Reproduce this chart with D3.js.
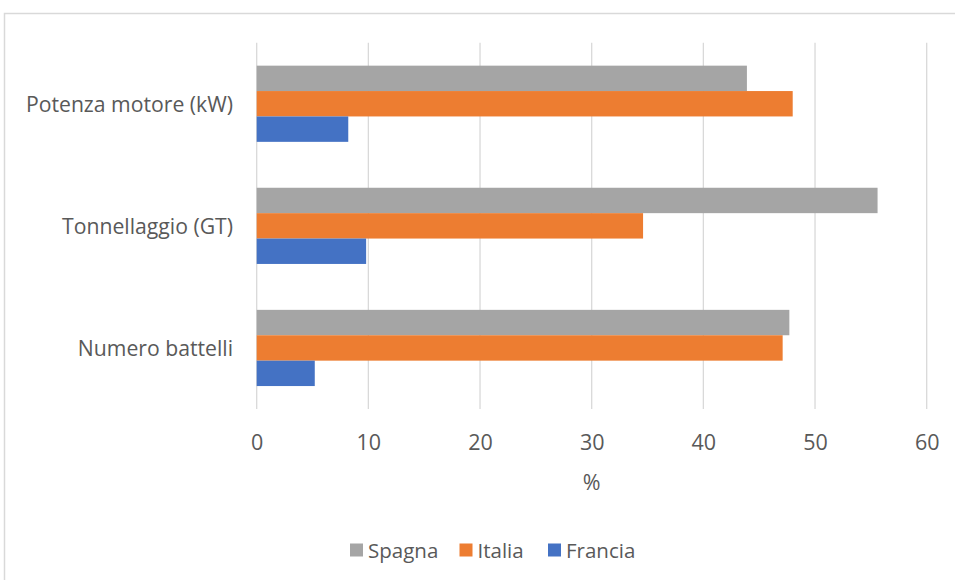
<!DOCTYPE html>
<html>
<head>
<meta charset="utf-8">
<script src="https://cdn.jsdelivr.net/npm/d3@7"></script>
<style>
  html, body { margin: 0; padding: 0; background: #ffffff; }
  svg { display: block; font-family: "Open Sans", "Noto Sans", sans-serif; }
</style>
</head>
<body>
<svg id="chart" width="955" height="580"></svg>
<script>
// Categories, top to bottom
const categories = ["Potenza motore (kW)", "Tonnellaggio (GT)", "Numero battelli"];
// Series names, in drawing order within each group (top to bottom)
const seriesNames = ["Spagna", "Italia", "Francia"];
const seriesColors = ["#A5A5A5", "#ED7D31", "#4472C4"];
// Share (%) per category, one array per series
const spagna  = [43.9, 55.6, 47.7];
const italia  = [48.0, 34.6, 47.1];
const francia = [8.2, 9.8, 5.2];
const xTicks = [0, 10, 20, 30, 40, 50, 60];
const xTitle = "%";

const seriesValues = [spagna, italia, francia];

const svg = d3.select("#chart");
const textColor = "#595959";
const gridColor = "#D9D9D9";

// Chart frame
svg.append("rect")
  .attr("x", 4.5).attr("y", 13.5)
  .attr("width", 1200).attr("height", 1200)
  .attr("fill", "#ffffff")
  .attr("stroke", gridColor).attr("stroke-width", 1.5);

const plot = { left: 256.7, right: 926.7, top: 42.7, bottom: 409 };

const x = d3.scaleLinear().domain([0, 60]).range([plot.left, plot.right]);
const y = d3.scaleBand().domain(categories)
  .range([plot.top, plot.bottom])
  .paddingInner(0.376).paddingOuter(0.188);
const ySeries = d3.scaleBand().domain(seriesNames).range([0, y.bandwidth()]);

// Vertical gridlines
svg.append("g").selectAll("line").data(xTicks).join("line")
  .attr("x1", d => x(d)).attr("x2", d => x(d))
  .attr("y1", plot.top).attr("y2", plot.bottom)
  .attr("stroke", gridColor).attr("stroke-width", 1.3);

// Bars
const groups = svg.append("g").selectAll("g").data(categories).join("g")
  .attr("transform", d => `translate(0,${y(d)})`);
groups.each(function(cat, ci) {
  d3.select(this).selectAll("rect")
    .data(seriesNames.map((s, si) => ({ s, si, v: seriesValues[si][ci] })))
    .join("rect")
    .attr("x", x(0))
    .attr("y", d => ySeries(d.s))
    .attr("width", d => x(d.v) - x(0))
    .attr("height", ySeries.bandwidth())
    .attr("fill", d => seriesColors[d.si]);
});

// Category labels
svg.append("g").selectAll("text").data(categories).join("text")
  .attr("x", 233)
  .attr("y", d => y(d) + y.bandwidth() / 2)
  .attr("text-anchor", "end")
  .attr("dominant-baseline", "central")
  .attr("font-size", 21.2)
  .attr("fill", textColor)
  .text(d => d);

// X axis tick labels
const xAxis = d3.axisBottom(x).tickValues(xTicks).tickSize(0).tickPadding(0);
const gx = svg.append("g").attr("transform", `translate(0,${plot.bottom})`).call(xAxis);
gx.select(".domain").remove();
gx.selectAll("text")
  .attr("y", 32)
  .attr("dy", 0)
  .attr("dominant-baseline", "central")
  .attr("font-family", "\"Open Sans\", sans-serif")
  .attr("font-size", 21.5)
  .attr("fill", textColor);

// Axis title
svg.append("text")
  .attr("x", (plot.left + plot.right) / 2)
  .attr("y", 481)
  .attr("text-anchor", "middle")
  .attr("dominant-baseline", "central")
  .attr("font-size", 21.5)
  .attr("fill", textColor)
  .text(xTitle);

// Legend
const legendX = [350, 459.5, 548];
const legend = svg.append("g").selectAll("g").data(seriesNames).join("g")
  .attr("transform", (d, i) => `translate(${legendX[i]},550)`);
legend.append("rect")
  .attr("x", 0).attr("y", -6.5)
  .attr("width", 13).attr("height", 13)
  .attr("fill", (d, i) => seriesColors[i]);
legend.append("text")
  .attr("x", 18).attr("y", 0)
  .attr("dominant-baseline", "central")
  .attr("font-size", 20.5)
  .attr("fill", textColor)
  .text(d => d);
</script>
</body>
</html>
